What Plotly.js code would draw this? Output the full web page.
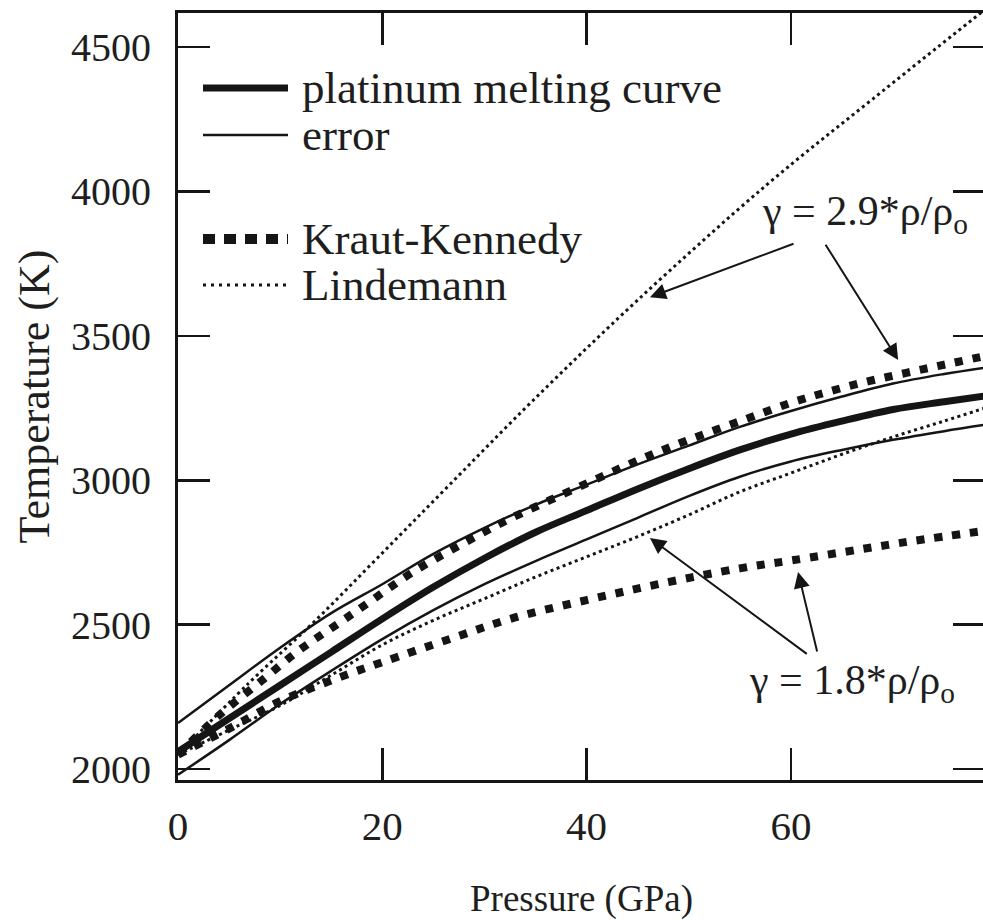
<!DOCTYPE html>
<html>
<head>
<meta charset="utf-8">
<script src="https://cdn.plot.ly/plotly-3.0.1.min.js"></script>
<style>
html,body{margin:0;padding:0;overflow:hidden;background:#fff;}
#chart{width:990px;height:920px;}
</style>
</head>
<body>
<div id="chart"></div>
<script>
// ---- data (Pressure in GPa, Temperature in K) ----
const meltP  = [0, 5, 10, 15, 20, 25, 30, 35, 40, 45, 50, 55, 60, 65, 70, 75, 79];
const meltT  = [2060, 2175, 2290, 2405, 2520, 2630, 2730, 2820, 2895, 2970, 3040, 3105, 3160, 3205, 3245, 3272, 3292];

const errHiP = [0, 5, 10, 15, 20, 25, 30, 35, 40, 45, 50, 55, 60, 65, 70, 75, 79];
const errHiT = [2159, 2290, 2420, 2540, 2640, 2745, 2835, 2915, 2985, 3055, 3120, 3185, 3240, 3290, 3335, 3368, 3390];

const errLoP = [0, 5, 10, 15, 20, 25, 30, 35, 40, 45, 50, 55, 60, 65, 70, 75, 79];
const errLoT = [1980, 2100, 2225, 2340, 2450, 2550, 2640, 2720, 2795, 2870, 2945, 3012, 3065, 3105, 3140, 3170, 3192];

const kkHiP  = [0, 4, 8.5, 12, 15.7, 19, 22.9, 27.6, 32, 36.4, 41, 45.5, 50, 55.3, 60, 63.8, 67.5, 71.3, 75, 79];
const kkHiT  = [2050, 2185, 2315, 2415, 2504, 2585, 2680, 2775, 2858, 2931, 3005, 3076, 3140, 3208, 3268, 3308, 3342, 3372, 3400, 3430];

const kkLoP  = [0, 5, 10, 16, 20, 27, 33, 40, 47, 55, 60, 67, 72, 79];
const kkLoT  = [2050, 2140, 2235, 2320, 2370, 2455, 2525, 2585, 2640, 2695, 2722, 2762, 2790, 2825];

const linHiP = [0, 7, 13.3, 19.5, 26.6, 34.8, 45, 57.6, 68, 79];
const linHiT = [2050, 2300, 2509, 2730, 2985, 3278, 3624, 4022, 4320, 4630];

const linLoP = [0, 5, 10, 15, 20, 25, 30, 35, 40, 45, 50, 55, 60, 65, 70, 75, 79];
const linLoT = [2050, 2135, 2220, 2325, 2430, 2515, 2590, 2665, 2735, 2805, 2880, 2960, 3025, 3090, 3150, 3205, 3250];

const xTickVals = [0, 20, 40, 60];
const yTickVals = [2000, 2500, 3000, 3500, 4000, 4500];
const legendLabels = ['platinum melting curve', 'error', 'Kraut-Kennedy', 'Lindemann'];
const gammaLabels = ['\u03b3 = 2.9*\u03c1/\u03c1<sub>o</sub>', '\u03b3 = 1.8*\u03c1/\u03c1<sub>o</sub>'];
const xTitle = 'Pressure (GPa)';
const yTitle = 'Temperature (K)';

// ---- styling ----
const INK = '#151515';
const TXT = '#1e1e1e';
const SERIF = 'Liberation Serif, Times New Roman, serif';

const thick = {color: INK, width: 7, shape: 'spline', smoothing: 1};
const thin  = {color: INK, width: 2.5, shape: 'spline', smoothing: 1};
const kk    = {color: INK, width: 8, dash: '8px,10px', shape: 'spline', smoothing: 1};
const lind  = {color: INK, width: 3, dash: '3px,3.5px', shape: 'spline', smoothing: 1};

function tr(x, y, line, name) {
  return {type: 'scatter', mode: 'lines', x: x, y: y, line: line, name: name,
          showlegend: false, hoverinfo: 'skip'};
}

const traces = [
  tr(errHiP, errHiT, thin, 'error (upper)'),
  tr(errLoP, errLoT, thin, 'error (lower)'),
  tr(linHiP, linHiT, lind, 'Lindemann, gamma 2.9'),
  tr(linLoP, linLoT, lind, 'Lindemann, gamma 1.8'),
  tr(kkHiP, kkHiT, kk, 'Kraut-Kennedy, gamma 2.9'),
  tr(kkLoP, kkLoT, kk, 'Kraut-Kennedy, gamma 1.8'),
  tr(meltP, meltT, thick, 'platinum melting curve')
];

// plot area: x 178..985 px, y 13..780 px
const ML = 178, MR = 5, MT = 13, MB = 140, W = 990, H = 920;
const PW = W - ML - MR, PH = H - MT - MB;
const px = v => (v - ML) / PW;            // page px -> paper x
const py = v => (H - MB - v) / PH;        // page px -> paper y

const legendRows = [
  {y: 88,  line: {color: INK, width: 7}},
  {y: 135, line: {color: INK, width: 2.5}},
  {y: 239, line: {color: INK, width: 10, dash: '12px,9px'}},
  {y: 285, line: {color: INK, width: 3, dash: '3px,5px'}}
];

const shapes = legendRows.map(r => ({
  type: 'line', xref: 'paper', yref: 'paper',
  x0: px(203), x1: px(288), y0: py(r.y), y1: py(r.y), line: r.line
}));

const legendText = legendRows.map((r, i) => ({
  xref: 'paper', yref: 'paper', x: px(300), y: py(r.y),
  xanchor: 'left', yanchor: 'middle', showarrow: false,
  text: legendLabels[i], font: {family: SERIF, size: 45, color: TXT}
}));

// pointer arrows (tail -> head) next to the gamma labels
const arrowStyle = {xref: 'x', yref: 'y', axref: 'x', ayref: 'y', text: '',
  showarrow: true, arrowhead: 2, arrowsize: 1.6, arrowwidth: 2,
  arrowcolor: INK, standoff: 0, startstandoff: 0};

const arrows = [
  Object.assign({}, arrowStyle, {x: 46.2, y: 3634, ax: 60.4, ay: 3821}),
  Object.assign({}, arrowStyle, {x: 70.5, y: 3416, ax: 63.3, ay: 3821}),
  Object.assign({}, arrowStyle, {x: 46.2, y: 2800, ax: 61.7, ay: 2395}),
  Object.assign({}, arrowStyle, {x: 60.7, y: 2682, ax: 62.6, ay: 2402})
];

const gammaText = [
  {x: 67.25, y: 3922, text: gammaLabels[0]},
  {x: 66.0,  y: 2298, text: gammaLabels[1]}
].map(a => Object.assign({xref: 'x', yref: 'y', xanchor: 'center', yanchor: 'middle',
  showarrow: false, font: {family: SERIF, size: 42, color: TXT}}, a));

const axisCommon = {
  showgrid: false, zeroline: false, showline: true, linecolor: INK, linewidth: 3,
  mirror: 'ticks', ticks: 'inside', ticklen: 32, tickwidth: 2.5, tickcolor: INK,
  tickmode: 'array'
};

const layout = {
  width: W, height: H, autosize: false,
  margin: {l: ML, r: MR, t: MT, b: MB, pad: 0},
  paper_bgcolor: '#ffffff', plot_bgcolor: '#ffffff',
  showlegend: false,
  xaxis: Object.assign({}, axisCommon, {
    range: [0, 79], tickvals: xTickVals, ticktext: xTickVals.map(String),
    tickfont: {family: SERIF, size: 41, color: TXT},
    ticklabelstandoff: 8,
    title: {text: xTitle, font: {family: SERIF, size: 37, color: TXT}, standoff: 44}
  }),
  yaxis: Object.assign({}, axisCommon, {
    range: [1962, 4618], tickvals: yTickVals, ticktext: yTickVals.map(String),
    tickfont: {family: SERIF, size: 40, color: TXT},
    ticklabelstandoff: 16,
    title: {text: yTitle, font: {family: SERIF, size: 44, color: TXT}, standoff: 8}
  }),
  shapes: shapes,
  annotations: legendText.concat(gammaText, arrows)
};

Plotly.newPlot('chart', traces, layout, {staticPlot: true, displayModeBar: false});
</script>
</body>
</html>
